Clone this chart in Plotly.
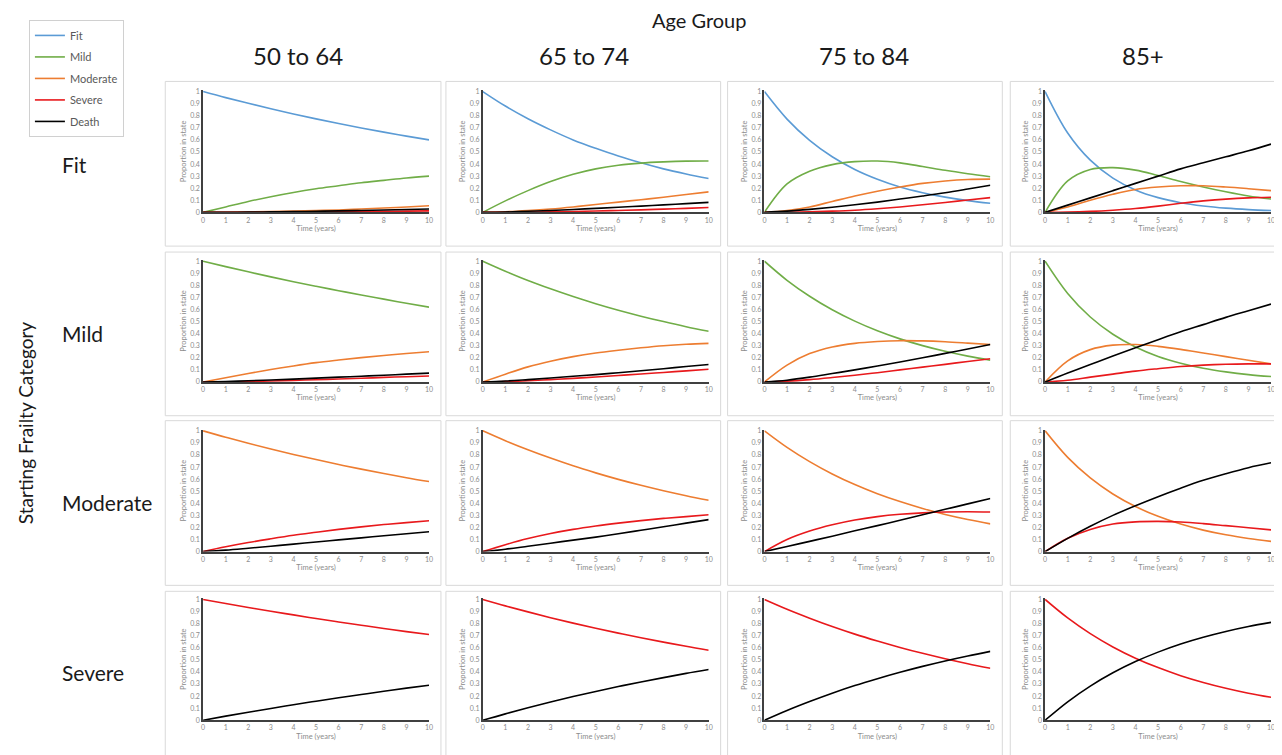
import plotly.graph_objects as go

# page is rendered with an 8px body margin; design in page pixels and shift
OFF = 8
W, H = 1274, 747

years = [0, 1, 2, 3, 4, 5, 6, 7, 8, 9, 10]
series_names = ["Fit", "Mild", "Moderate", "Severe", "Death"]
age_groups = ["50 to 64", "65 to 74", "75 to 84", "85+"]
start_states = ["Fit", "Mild", "Moderate", "Severe"]
colors = {"Fit": "#5b9bd5", "Mild": "#70ad47", "Moderate": "#ed7d31",
          "Severe": "#e8191c", "Death": "#000000"}

# ---- Starting state: Fit ----
fit_50 = {
    "Fit":      [1, 0.95, 0.903, 0.858, 0.815, 0.774, 0.736, 0.699, 0.664, 0.631, 0.60],
    "Mild":     [0, 0.045, 0.09, 0.13, 0.165, 0.195, 0.22, 0.245, 0.265, 0.285, 0.30],
    "Moderate": [0, 0.001, 0.003, 0.006, 0.01, 0.015, 0.02, 0.028, 0.036, 0.045, 0.055],
    "Severe":   [0, 0, 0, 0.001, 0.002, 0.003, 0.004, 0.006, 0.008, 0.01, 0.012],
    "Death":    [0, 0.001, 0.002, 0.004, 0.006, 0.009, 0.012, 0.016, 0.02, 0.024, 0.028],
}
fit_65 = {
    "Fit":      [1, 0.88, 0.775, 0.683, 0.60, 0.53, 0.466, 0.41, 0.36, 0.318, 0.28],
    "Mild":     [0, 0.095, 0.18, 0.255, 0.315, 0.36, 0.39, 0.408, 0.418, 0.424, 0.425],
    "Moderate": [0, 0.005, 0.015, 0.028, 0.045, 0.065, 0.085, 0.105, 0.125, 0.148, 0.17],
    "Severe":   [0, 0, 0.002, 0.004, 0.007, 0.011, 0.016, 0.021, 0.027, 0.033, 0.04],
    "Death":    [0, 0.003, 0.009, 0.016, 0.024, 0.033, 0.042, 0.052, 0.062, 0.072, 0.083],
}
fit_75 = {
    "Fit":      [1, 0.772, 0.596, 0.46, 0.355, 0.274, 0.21, 0.163, 0.126, 0.097, 0.075],
    "Mild":     [0, 0.235, 0.34, 0.395, 0.42, 0.425, 0.41, 0.38, 0.348, 0.32, 0.295],
    "Moderate": [0, 0.015, 0.045, 0.09, 0.135, 0.175, 0.21, 0.24, 0.26, 0.272, 0.275],
    "Severe":   [0, 0.001, 0.004, 0.01, 0.018, 0.03, 0.045, 0.063, 0.082, 0.102, 0.122],
    "Death":    [0, 0.01, 0.025, 0.043, 0.063, 0.085, 0.11, 0.135, 0.162, 0.193, 0.225],
}
fit_85 = {
    "Fit":      [1, 0.657, 0.432, 0.284, 0.186, 0.122, 0.08, 0.053, 0.035, 0.023, 0.015],
    "Mild":     [0, 0.26, 0.355, 0.37, 0.35, 0.305, 0.255, 0.21, 0.17, 0.135, 0.11],
    "Moderate": [0, 0.045, 0.10, 0.15, 0.19, 0.21, 0.22, 0.22, 0.21, 0.196, 0.18],
    "Severe":   [0, 0.002, 0.008, 0.018, 0.032, 0.052, 0.075, 0.095, 0.11, 0.12, 0.125],
    "Death":    [0, 0.06, 0.12, 0.18, 0.24, 0.30, 0.36, 0.41, 0.46, 0.51, 0.565],
}

# ---- Starting state: Mild ----
mild_50 = {
    "Mild":     [1, 0.955, 0.912, 0.87, 0.83, 0.792, 0.756, 0.72, 0.686, 0.652, 0.62],
    "Moderate": [0, 0.035, 0.07, 0.103, 0.133, 0.16, 0.182, 0.202, 0.22, 0.236, 0.25],
    "Severe":   [0, 0.001, 0.004, 0.008, 0.013, 0.019, 0.025, 0.031, 0.038, 0.044, 0.05],
    "Death":    [0, 0.004, 0.01, 0.017, 0.024, 0.032, 0.04, 0.048, 0.056, 0.065, 0.073],
}
mild_65 = {
    "Mild":     [1, 0.917, 0.84, 0.771, 0.707, 0.648, 0.594, 0.545, 0.50, 0.458, 0.42],
    "Moderate": [0, 0.065, 0.125, 0.172, 0.21, 0.24, 0.263, 0.283, 0.30, 0.312, 0.32],
    "Severe":   [0, 0.003, 0.01, 0.02, 0.03, 0.042, 0.054, 0.066, 0.079, 0.092, 0.105],
    "Death":    [0, 0.008, 0.02, 0.033, 0.047, 0.061, 0.077, 0.093, 0.11, 0.128, 0.145],
}
mild_75 = {
    "Mild":     [1, 0.842, 0.71, 0.598, 0.504, 0.424, 0.357, 0.301, 0.254, 0.214, 0.18],
    "Moderate": [0, 0.14, 0.235, 0.29, 0.32, 0.335, 0.342, 0.34, 0.333, 0.322, 0.31],
    "Severe":   [0, 0.007, 0.02, 0.037, 0.056, 0.077, 0.10, 0.123, 0.146, 0.17, 0.193],
    "Death":    [0, 0.015, 0.04, 0.07, 0.10, 0.132, 0.165, 0.20, 0.237, 0.273, 0.31],
}
mild_85 = {
    "Mild":     [1, 0.733, 0.538, 0.395, 0.29, 0.212, 0.156, 0.114, 0.084, 0.061, 0.045],
    "Moderate": [0, 0.175, 0.268, 0.305, 0.31, 0.295, 0.27, 0.24, 0.21, 0.18, 0.15],
    "Severe":   [0, 0.015, 0.04, 0.065, 0.09, 0.11, 0.128, 0.14, 0.147, 0.15, 0.15],
    "Death":    [0, 0.075, 0.145, 0.215, 0.283, 0.35, 0.415, 0.475, 0.535, 0.59, 0.645],
}

# ---- Starting state: Moderate ----
mod_50 = {
    "Moderate": [1, 0.947, 0.897, 0.849, 0.804, 0.762, 0.721, 0.683, 0.647, 0.612, 0.58],
    "Severe":   [0, 0.04, 0.075, 0.106, 0.135, 0.16, 0.184, 0.205, 0.224, 0.24, 0.255],
    "Death":    [0, 0.012, 0.028, 0.045, 0.062, 0.08, 0.097, 0.114, 0.131, 0.148, 0.165],
}
mod_65 = {
    "Moderate": [1, 0.918, 0.843, 0.774, 0.71, 0.652, 0.598, 0.549, 0.504, 0.463, 0.425],
    "Severe":   [0, 0.057, 0.108, 0.15, 0.184, 0.212, 0.236, 0.257, 0.275, 0.29, 0.305],
    "Death":    [0, 0.02, 0.045, 0.07, 0.095, 0.12, 0.148, 0.177, 0.206, 0.236, 0.265],
}
mod_75 = {
    "Moderate": [1, 0.863, 0.745, 0.643, 0.555, 0.479, 0.414, 0.357, 0.308, 0.266, 0.23],
    "Severe":   [0, 0.10, 0.17, 0.222, 0.262, 0.29, 0.309, 0.321, 0.328, 0.33, 0.328],
    "Death":    [0, 0.042, 0.085, 0.128, 0.172, 0.215, 0.26, 0.305, 0.35, 0.395, 0.44],
}
mod_85 = {
    "Moderate": [1, 0.78, 0.61, 0.477, 0.373, 0.292, 0.228, 0.178, 0.139, 0.109, 0.085],
    "Severe":   [0, 0.11, 0.183, 0.228, 0.246, 0.25, 0.245, 0.232, 0.215, 0.198, 0.18],
    "Death":    [0, 0.11, 0.21, 0.30, 0.38, 0.455, 0.525, 0.59, 0.645, 0.695, 0.735],
}

# ---- Starting state: Severe ----
sev_50 = {
    "Severe":   [1, 0.966, 0.934, 0.902, 0.872, 0.842, 0.814, 0.787, 0.76, 0.734, 0.71],
    "Death":    [0, 0.034, 0.066, 0.098, 0.128, 0.158, 0.186, 0.213, 0.24, 0.266, 0.29],
}
sev_65 = {
    "Severe":   [1, 0.947, 0.897, 0.849, 0.804, 0.762, 0.721, 0.683, 0.647, 0.612, 0.58],
    "Death":    [0, 0.053, 0.103, 0.151, 0.196, 0.238, 0.279, 0.317, 0.353, 0.388, 0.42],
}
sev_75 = {
    "Severe":   [1, 0.919, 0.845, 0.776, 0.713, 0.656, 0.603, 0.554, 0.509, 0.468, 0.43],
    "Death":    [0, 0.081, 0.155, 0.224, 0.287, 0.344, 0.397, 0.446, 0.491, 0.532, 0.57],
}
sev_85 = {
    "Severe":   [1, 0.847, 0.717, 0.607, 0.514, 0.436, 0.369, 0.313, 0.265, 0.224, 0.19],
    "Death":    [0, 0.153, 0.283, 0.393, 0.486, 0.564, 0.631, 0.687, 0.735, 0.776, 0.81],
}

panels = [
    [fit_50, fit_65, fit_75, fit_85],
    [mild_50, mild_65, mild_75, mild_85],
    [mod_50, mod_65, mod_75, mod_85],
    [sev_50, sev_65, sev_75, sev_85],
]

# ---- layout geometry (page pixels) ----
plot_x0 = [202, 483, 766, 1048]
plot_w = 227
plot_ytop = [88, 259, 430, 600]
plot_h = 123
box_x = [(164, 441), (446, 722), (729, 1005), (1013, 1290)]
box_y = [(79, 245), (251, 416), (421, 587), (593, 765)]


def px(x):
    return (x - OFF) / W


def py(y):
    return 1 - (y - OFF) / H


FONT = "Lato, 'Open Sans', sans-serif"
TICK = dict(family=FONT, size=7, color="#8c8c8c")
AXT = dict(family=FONT, size=7.5, color="#8c8c8c")

fig = go.Figure()
shapes = []
layout_axes = {}

n = 0
for r in range(4):
    for c in range(4):
        n += 1
        xa = "x" if n == 1 else f"x{n}"
        ya = "y" if n == 1 else f"y{n}"
        data = panels[r][c]
        for name in series_names:
            if name not in data:
                continue
            show = (r == 0 and c == 0)
            fig.add_trace(go.Scatter(
                x=years, y=data[name], mode="lines", name=name,
                legendgroup=name, showlegend=show,
                line=dict(color=colors[name], width=1.6, shape="spline", smoothing=1.0),
                xaxis=xa, yaxis=ya, hoverinfo="x+y+name"))
        dx = [px(plot_x0[c]), px(plot_x0[c] + plot_w)]
        dy = [py(plot_ytop[r] + plot_h), py(plot_ytop[r])]
        layout_axes["xaxis" if n == 1 else f"xaxis{n}"] = dict(
            domain=dx, anchor=ya, range=[0, 10], dtick=1, tick0=0,
            showgrid=False, zeroline=False, showline=True,
            linecolor="#404040", linewidth=1.5, ticks="",
            tickfont=TICK, fixedrange=True,
            title=dict(text="Time (years)", font=AXT, standoff=3))
        layout_axes["yaxis" if n == 1 else f"yaxis{n}"] = dict(
            domain=dy, anchor=xa, range=[0, 1.01], dtick=0.1, tick0=0,
            showgrid=False, zeroline=False, showline=True,
            linecolor="#404040", linewidth=1.5, ticks="",
            tickfont=TICK, fixedrange=True,
            title=dict(text="Proportion in state", font=AXT, standoff=3))
        bx0, bx1 = box_x[c]
        by0, by1 = box_y[r]
        shapes.append(dict(type="rect", xref="paper", yref="paper",
                           x0=px(bx0), x1=px(bx1), y0=py(by1), y1=py(by0),
                           line=dict(color="#d9d9d9", width=1), fillcolor="rgba(0,0,0,0)",
                           layer="below"))

annotations = []
annotations.append(dict(text="Age Group", x=px(700), y=py(17), xref="paper", yref="paper",
                        showarrow=False, font=dict(family=FONT, size=20, color="#1a1a1a"),
                        xanchor="center", yanchor="middle"))
col_centers = [297, 585, 866, 1146]
for c, lab in enumerate(age_groups):
    annotations.append(dict(text=lab, x=px(col_centers[c]), y=py(53), xref="paper", yref="paper",
                            showarrow=False, font=dict(family=FONT, size=24, color="#1a1a1a"),
                            xanchor="center", yanchor="middle"))
row_centers = [163, 333, 503, 675]
for r, lab in enumerate(start_states):
    annotations.append(dict(text=lab, x=px(58), y=py(row_centers[r]), xref="paper", yref="paper",
                            showarrow=False, font=dict(family=FONT, size=21, color="#1a1a1a"),
                            xanchor="left", yanchor="middle"))
annotations.append(dict(text="Starting Frailty Category", x=px(10), y=py(423),
                        xref="paper", yref="paper", showarrow=False, textangle=-90,
                        font=dict(family=FONT, size=19, color="#1a1a1a"),
                        xanchor="left", yanchor="middle"))

fig.update_layout(
    width=W, height=H, margin=dict(l=0, r=0, t=0, b=0),
    paper_bgcolor="white", plot_bgcolor="white",
    shapes=shapes, annotations=annotations,
    showlegend=True,
    legend=dict(x=px(27), y=py(17), xanchor="left", yanchor="top",
                bordercolor="#d0d0d0", borderwidth=1, bgcolor="white",
                font=dict(family=FONT, size=11, color="#595959"),
                tracegroupgap=2.5, itemwidth=30),
    **layout_axes,
)

fig.write_html("out.html")
